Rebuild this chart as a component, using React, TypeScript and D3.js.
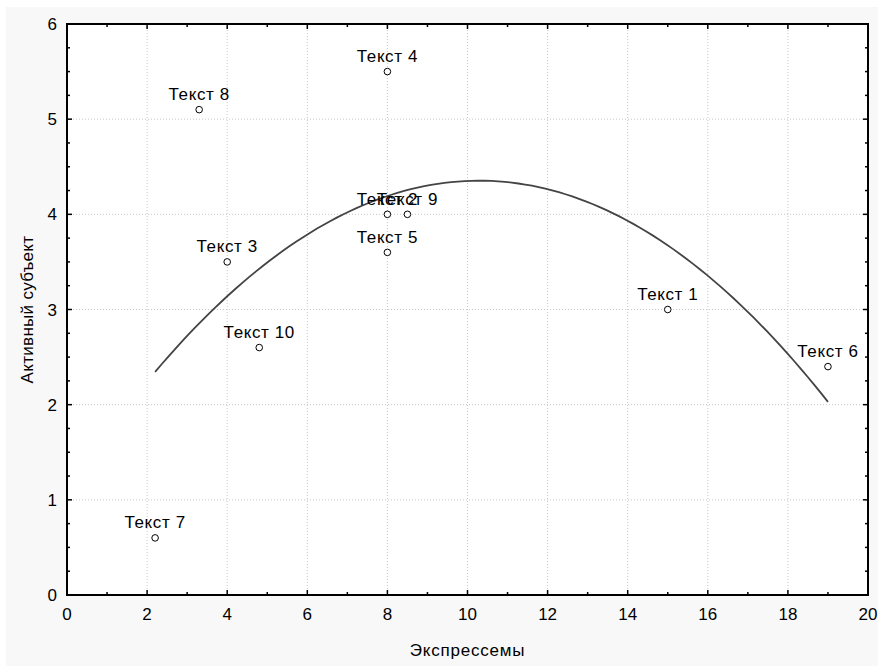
import React from 'react';
import * as d3 from 'd3';

const labels = ['Текст 1', 'Текст 2', 'Текст 3', 'Текст 4', 'Текст 5', 'Текст 6', 'Текст 7', 'Текст 8', 'Текст 9', 'Текст 10'];
const xValues = [15, 8, 4, 8, 8, 19, 2.2, 3.3, 8.5, 4.8];
const yValues = [3, 4, 3.5, 5.5, 3.6, 2.4, 0.6, 5.1, 4, 2.6];
const xTicks = [0, 2, 4, 6, 8, 10, 12, 14, 16, 18, 20];
const yTicks = [0, 1, 2, 3, 4, 5, 6];

// quadratic least squares fit: y = c0 + c1 x + c2 x^2
function quadFit(xs: number[], ys: number[]) {
  const s = [0, 0, 0, 0, 0];
  const t = [0, 0, 0];
  xs.forEach((x, i) => {
    for (let k = 0; k < 5; k++) s[k] += Math.pow(x, k);
    for (let k = 0; k < 3; k++) t[k] += ys[i] * Math.pow(x, k);
  });
  const m = [
    [s[0], s[1], s[2], t[0]],
    [s[1], s[2], s[3], t[1]],
    [s[2], s[3], s[4], t[2]],
  ];
  for (let i = 0; i < 3; i++) {
    for (let j = i + 1; j < 3; j++) {
      const f = m[j][i] / m[i][i];
      for (let k = i; k < 4; k++) m[j][k] -= f * m[i][k];
    }
  }
  const c = [0, 0, 0];
  for (let i = 2; i >= 0; i--) {
    let v = m[i][3];
    for (let k = i + 1; k < 3; k++) v -= m[i][k] * c[k];
    c[i] = v / m[i][i];
  }
  return (x: number) => c[0] + c[1] * x + c[2] * x * x;
}

const App = () => {
  const width = 878;
  const height = 666;
  const margin = { left: 67, right: 10, top: 24, bottom: 71 };
  const x = d3.scaleLinear().domain([0, 20]).range([margin.left, width - margin.right]);
  const y = d3.scaleLinear().domain([0, 6]).range([height - margin.bottom, margin.top]);
  const font = 'Liberation Sans, Arial, sans-serif';

  const fit = quadFit(xValues, yValues);
  const xMin = d3.min(xValues) as number;
  const xMax = d3.max(xValues) as number;
  const curvePts = d3.range(0, 101).map(i => {
    const xv = xMin + ((xMax - xMin) * i) / 100;
    return [xv, fit(xv)] as [number, number];
  });
  const line = d3
    .line<[number, number]>()
    .x(d => x(d[0]))
    .y(d => y(d[1]));

  const xMinor = d3.range(0, 21, 1);
  const yMinor = d3.range(0, 6.01, 0.25);
  const [x0, x1] = x.range();
  const [y0, y1] = y.range();

  return (
    <svg width={width} height={height} style={{ position: 'absolute', left: 0, top: 0 }} fontFamily={font}>
      <rect x={0} y={0} width={width} height={height} fill="#ffffff" />
      <rect x={6} y={7} width={width - 6} height={height - 7} fill="#f8f8f8" />
      <rect x={x0} y={y1} width={x1 - x0} height={y0 - y1} fill="#ffffff" />
      {xTicks.slice(1, -1).map(t => (
        <line key={'gx' + t} x1={x(t)} x2={x(t)} y1={y1} y2={y0} stroke="#c8c8c8" strokeDasharray="1,2" />
      ))}
      {yTicks.slice(1, -1).map(t => (
        <line key={'gy' + t} x1={x0} x2={x1} y1={y(t)} y2={y(t)} stroke="#c8c8c8" strokeDasharray="1,2" />
      ))}
      {xMinor.map(t => {
        const len = t % 2 === 0 ? 5 : 3;
        return (
          <g key={'tx' + t}>
            <line x1={x(t)} x2={x(t)} y1={y0} y2={y0 - len} stroke="#000" strokeWidth={1.5} />
            <line x1={x(t)} x2={x(t)} y1={y1} y2={y1 + len} stroke="#000" strokeWidth={1.5} />
          </g>
        );
      })}
      {yMinor.map(t => {
        const len = Math.abs(t - Math.round(t)) < 1e-6 ? 5 : 3;
        return (
          <g key={'ty' + t}>
            <line x1={x0} x2={x0 + len} y1={y(t)} y2={y(t)} stroke="#000" strokeWidth={1.5} />
            <line x1={x1} x2={x1 - len} y1={y(t)} y2={y(t)} stroke="#000" strokeWidth={1.5} />
          </g>
        );
      })}
      <rect x={x0} y={y1} width={x1 - x0} height={y0 - y1} fill="none" stroke="#000" strokeWidth={2} />
      {xTicks.map(t => (
        <text key={'lx' + t} x={x(t)} y={y0 + 25} fontSize={17} textAnchor="middle" fill="#000">
          {t}
        </text>
      ))}
      {yTicks.map(t => (
        <text key={'ly' + t} x={x0 - 10} y={y(t) + 6} fontSize={17} textAnchor="end" fill="#000">
          {t}
        </text>
      ))}
      <text x={(x0 + x1) / 2} y={656} fontSize={17} letterSpacing={0.8} textAnchor="middle" fill="#000">
        Экспрессемы
      </text>
      <text
        transform={`translate(33,${(y0 + y1) / 2}) rotate(-90)`}
        fontSize={17}
        letterSpacing={0.3}
        textAnchor="middle"
        fill="#000"
      >
        Активный субъект
      </text>
      <path d={line(curvePts) || ''} fill="none" stroke="#444" strokeWidth={1.8} />
      {labels.map((lab, i) => (
        <g key={lab}>
          <circle cx={x(xValues[i])} cy={y(yValues[i])} r={3.3} fill="#fff" stroke="#000" strokeWidth={1} />
          <text
            x={x(xValues[i])}
            y={y(yValues[i]) - 9.5}
            fontSize={17}
            letterSpacing={0.6}
            textAnchor="middle"
            fill="#000"
          >
            {lab}
          </text>
        </g>
      ))}
    </svg>
  );
};

export default App;
